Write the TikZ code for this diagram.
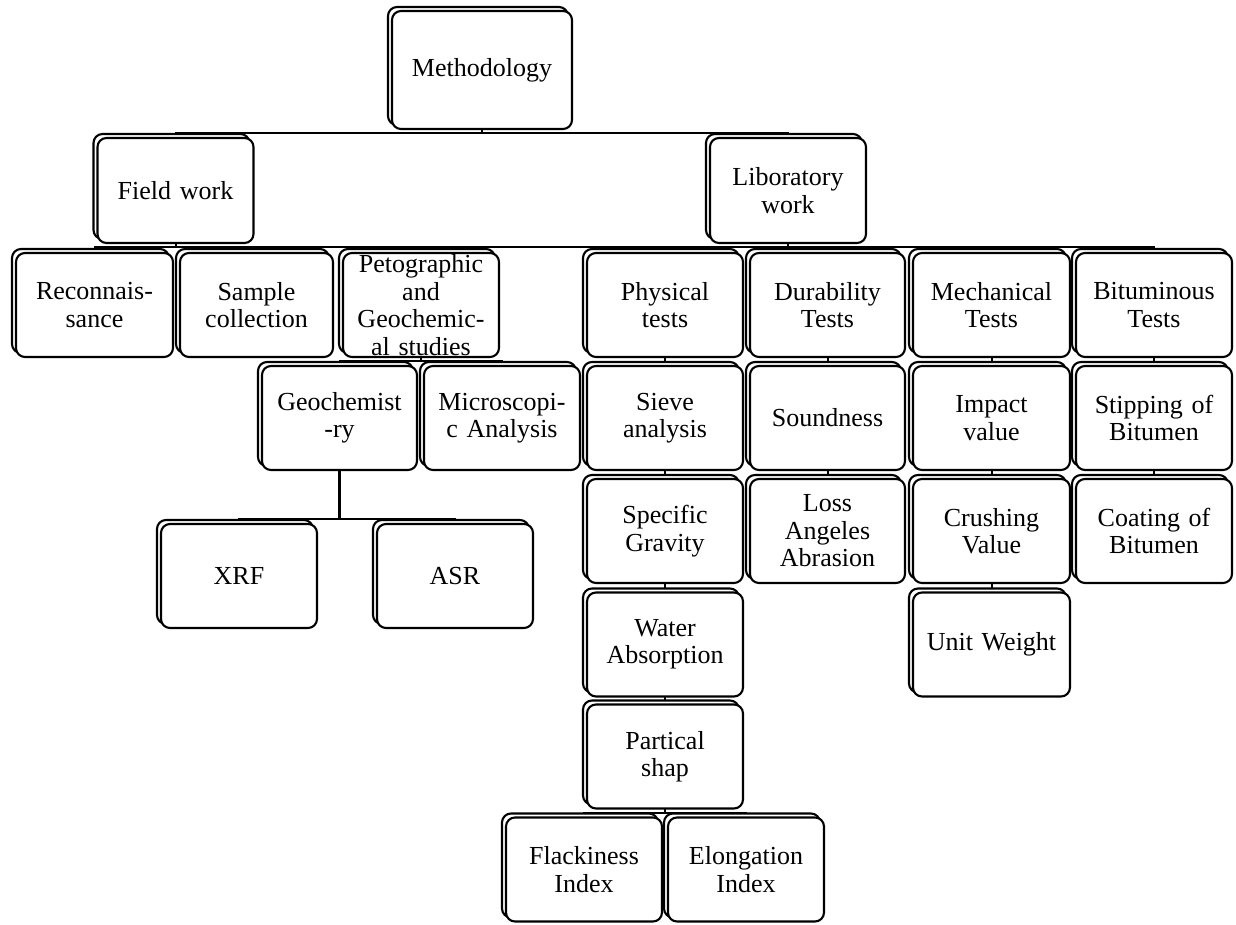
\documentclass[tikz,border=0pt]{standalone}
\usepackage{fontspec}
\setmainfont{Liberation Serif}
\usetikzlibrary{shadows,backgrounds}
\tikzset{
  box/.style={draw=black, line width=2.1pt, rounded corners=9pt, fill=white,
    minimum width=156pt, minimum height=104pt, inner sep=0pt,
    align=center, text width=150pt,
    font=\fontsize{26}{27.5}\selectfont,
    copy shadow={shadow xshift=-4pt, shadow yshift=4pt, fill=white, draw=black, line width=2.1pt}},
  conn/.style={draw=black, line width=2pt},
  thickconn/.style={draw=black, line width=3pt}
}
\begin{document}
\begin{tikzpicture}[x=1pt,y=-1pt]
\useasboundingbox (0,0) rectangle (1236,925);
% level 0
\node[box, minimum width=180pt, minimum height=118pt] (meth) at (482,70) {Methodology};
% level 1
\node[box, minimum height=105pt] (field) at (175.5,190.5) {Field work};
\node[box, minimum height=105pt] (lab) at (788,190.5) {Liboratory\\work};
% level 2
\node[box, minimum width=157pt] (recon) at (94.5,305) {Reconnais-\\sance};
\node[box, minimum width=153pt] (sample) at (256.5,305) {Sample\\collection};
\node[box] (petro) at (421,305) {Petographic\\and\\Geochemic-\\al studies};
\node[box] (phys) at (665,305) {Physical\\tests};
\node[box, minimum width=155pt] (dura) at (827.5,305) {Durability\\Tests};
\node[box, minimum width=157pt] (mech) at (991.5,305) {Mechanical\\Tests};
\node[box] (bitu) at (1154,305) {Bituminous\\Tests};
% petro children
\node[box, minimum width=155pt] (geo) at (339.5,418) {Geochemist\\-ry};
\node[box] (micro) at (502,418) {Microscopi-\\c Analysis};
\node[box] (xrf) at (239,576) {XRF};
\node[box] (asr) at (455,576) {ASR};
% row B
\node[box] (sieve) at (665,418) {Sieve\\analysis};
\node[box, minimum width=155pt] (sound) at (827.5,418) {Soundness};
\node[box, minimum width=157pt] (impact) at (991.5,418) {Impact\\value};
\node[box] (strip) at (1154,418) {Stipping of\\Bitumen};
% row C
\node[box] (spec) at (665,531) {Specific\\Gravity};
\node[box, minimum width=155pt] (loss) at (827.5,531) {Loss\\Angeles\\Abrasion};
\node[box, minimum width=157pt] (crush) at (991.5,531) {Crushing\\Value};
\node[box] (coat) at (1154,531) {Coating of\\Bitumen};
% row D
\node[box] (water) at (665,644.5) {Water\\Absorption};
\node[box, minimum width=157pt] (unit) at (991.5,644.5) {Unit Weight};
% row E
\node[box] (part) at (665,756.5) {Partical\\shap};
% row F
\node[box] (flack) at (584,869.5) {Flackiness\\Index};
\node[box] (elong) at (746,869.5) {Elongation\\Index};

\coordinate (b1) at (482,133);
\coordinate (b2) at (175.5,247);
\coordinate (b3) at (788,247);
\coordinate (b4) at (421,361);
\coordinate (b5) at (339.5,519);
\coordinate (b6) at (665,813);

\begin{scope}[on background layer]
\draw[conn] (meth.center) -- (b1);
\draw[conn] (field.center) |- (b1) -| (lab.center);
\draw[conn] (field.center) -- (b2);
\draw[conn] (recon.center) |- (b2) -| (petro.center);
\draw[conn] (sample.center) -- (sample.center |- b2);
\draw[conn] (lab.center) -- (b3);
\draw[conn] (petro.center |- b3) -- (phys.center |- b3);
\draw[conn] (phys.center) |- (b3) -| (bitu.center);
\draw[conn] (dura.center) -- (dura.center |- b3);
\draw[conn] (mech.center) -- (mech.center |- b3);
\draw[conn] (petro.center) -- (b4);
\draw[conn] (geo.center) |- (b4) -| (micro.center);
\draw[thickconn] (geo.center) -- (b5);
\draw[conn] (xrf.center) |- (b5) -| (asr.center);
\draw[conn] (phys.center) -- (sieve.center) -- (spec.center) -- (water.center) -- (part.center);
\draw[conn] (dura.center) -- (sound.center) -- (loss.center);
\draw[conn] (mech.center) -- (impact.center) -- (crush.center) -- (unit.center);
\draw[conn] (bitu.center) -- (strip.center) -- (coat.center);
\draw[conn] (part.center) -- (b6);
\draw[conn] (flack.center) |- (b6) -| (elong.center);
\end{scope}
\end{tikzpicture}
\end{document}
